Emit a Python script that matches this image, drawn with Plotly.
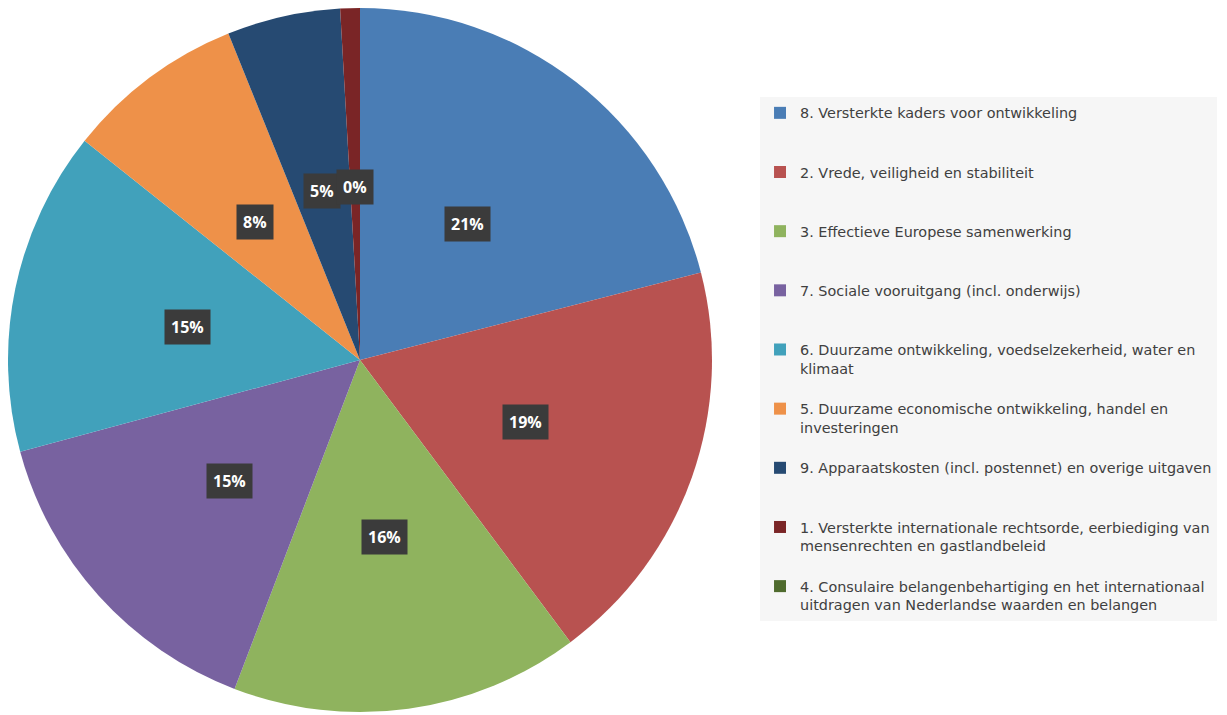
import math
import plotly.graph_objects as go

categories = [
    "8. Versterkte kaders voor ontwikkeling",
    "2. Vrede, veiligheid en stabiliteit",
    "3. Effectieve Europese samenwerking",
    "7. Sociale vooruitgang (incl. onderwijs)",
    "6. Duurzame ontwikkeling, voedselzekerheid, water en<br>klimaat",
    "5. Duurzame economische ontwikkeling, handel en<br>investeringen",
    "9. Apparaatskosten (incl. postennet) en overige uitgaven",
    "1. Versterkte internationale rechtsorde, eerbiediging van<br>mensenrechten en gastlandbeleid",
    "4. Consulaire belangenbehartiging en het internationaal<br>uitdragen van Nederlandse waarden en belangen",
]
values = [21.0, 18.8, 16.0, 15.0, 14.9, 8.2, 5.2, 0.9, 0.0]
pct_labels = ["21%", "19%", "16%", "15%", "15%", "8%", "5%", "0%", None]
colors = ["#4a7db5", "#b85250", "#8fb35e", "#7862a0", "#41a1bb",
          "#ee9149", "#264a72", "#7a2526", "#4f6b2e"]

W, H = 1227, 715
ml, mr, mt, mb = 0, 0, 0, 11
PW, PH = W - ml - mr, H - mt - mb
dom_x = [0, 704 / PW]

# legend entries padded to equal height (last one left as is)
legend_labels = []
for i, c in enumerate(categories):
    n = c.count("<br>") + 1
    if i < len(categories) - 1 and n < 3:
        legend_labels.append(c + "<br> " * (3 - n))
    else:
        legend_labels.append(c)

fig = go.Figure(go.Pie(
    labels=legend_labels,
    values=values,
    sort=False,
    direction="clockwise",
    rotation=0,
    marker=dict(colors=colors, line=dict(width=0)),
    textinfo="none",
    hoverinfo="label+percent",
    domain=dict(x=dom_x, y=[0, 1]),
))

# percentage boxes at half radius along each slice's middle angle
R = min(PW * (dom_x[1] - dom_x[0]), PH) / 2
cx = (dom_x[0] + dom_x[1]) / 2
total = sum(values)
cum = 0.0
for v, t in zip(values, pct_labels):
    mid = (cum + v / 2) / total * 2 * math.pi
    cum += v
    if t is None:
        continue
    x = cx + 0.5 * R * math.sin(mid) / PW
    y = 0.5 + 0.5 * R * math.cos(mid) / PH
    fig.add_annotation(
        x=x, y=y, xref="paper", yref="paper", text="<b>" + t + "</b>",
        xanchor="center", yanchor="middle", yshift=-3,
        showarrow=False, bgcolor="#3b3b3b", borderpad=6,
        font=dict(family="Open Sans", size=16, color="white"),
    )

fig.update_layout(
    width=W, height=H,
    margin=dict(l=ml, r=mr, t=mt, b=mb),
    paper_bgcolor="white",
    plot_bgcolor="white",
    showlegend=True,
    legend=dict(
        x=0.6129, y=0.8736, xanchor="left", yanchor="top",
        bgcolor="#f6f6f6", valign="top",
        font=dict(family="DejaVu Sans", size=14.4, color="#404040"),
        itemwidth=30,
    ),
)

fig.write_html("out.html")
